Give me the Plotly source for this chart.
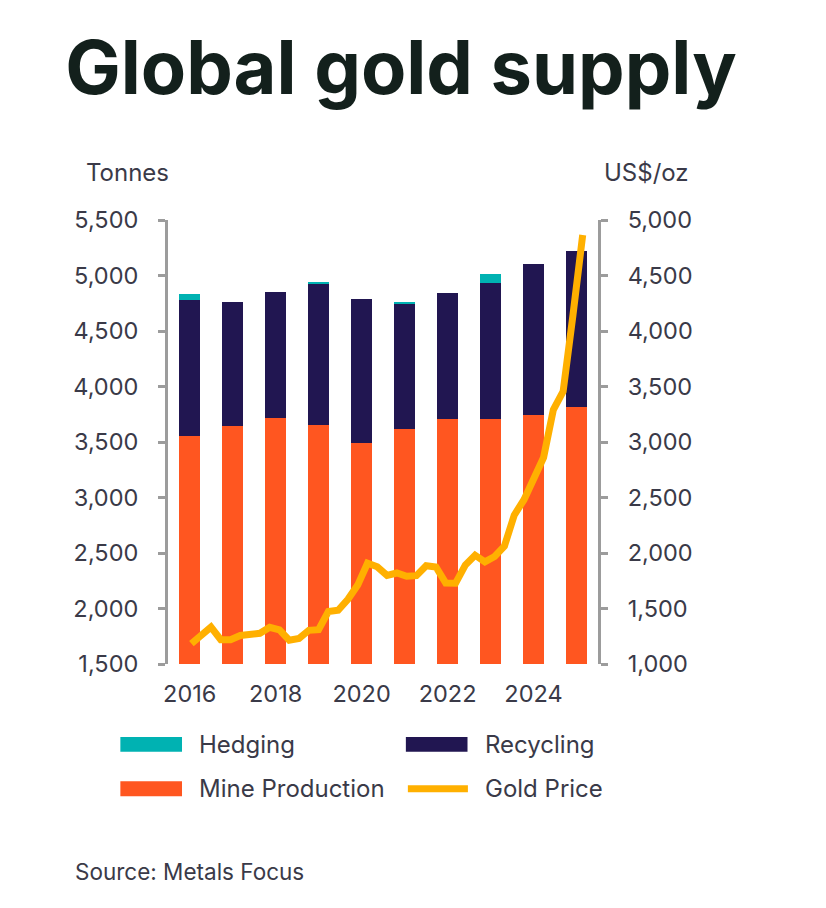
import plotly.graph_objects as go

# ---------------- data ----------------
years = [2016, 2017, 2018, 2019, 2020, 2021, 2022, 2023, 2024, 2025]
mine_production = [3553, 3643, 3715, 3652, 3493, 3619, 3706, 3706, 3739, 3817]
recycling = [1229, 1115, 1133, 1274, 1292, 1130, 1139, 1229, 1364, 1400]
hedging = [48, 0, 0, 12, 0, 12, 0, 75, 0, 0]

quarters = [f"Q{q} {y}" for y in range(2016, 2026) for q in range(1, 5)] + ["Q1 2026"]
gold_price = [1183, 1260, 1333, 1219,
              1219, 1257, 1275, 1277,
              1331, 1307, 1215, 1230,
              1303, 1309, 1473, 1484,
              1583, 1711, 1908, 1876,
              1798, 1820, 1791, 1796,
              1885, 1874, 1729, 1727,
              1891, 1980, 1920, 1969,
              2062, 2341, 2480, 2663,
              2860, 3290, 3455, 4140,
              4865]

left_ticks = [1500, 2000, 2500, 3000, 3500, 4000, 4500, 5000, 5500]
right_ticks = [1000, 1500, 2000, 2500, 3000, 3500, 4000, 4500, 5000]
x_ticks = [2016, 2018, 2020, 2022, 2024]

# ---------------- style ----------------
W, H = 826, 908
L, R = 168.3, 598.0
T, B = 219.6, 664.3
C_MINE = "#FF5620"
C_REC = "#211651"
C_HEDGE = "#00B2B2"
C_GOLD = "#FFB000"
C_AXIS = "#9C9C9C"
C_TEXT = "#3A3A48"
FONT = "Inter"

def px(x):
    return (x - L) / (R - L)

def py(y):
    return (B - y) / (B - T)

fig = go.Figure()
fig.add_trace(go.Bar(x=years, y=mine_production, name="Mine Production",
                     marker=dict(color=C_MINE, line=dict(width=0)), width=0.5,
                     showlegend=False))
fig.add_trace(go.Bar(x=years, y=recycling, name="Recycling",
                     marker=dict(color=C_REC, line=dict(width=0)), width=0.5,
                     showlegend=False))
fig.add_trace(go.Bar(x=years, y=hedging, name="Hedging",
                     marker=dict(color=C_HEDGE, line=dict(width=0)), width=0.5,
                     showlegend=False))
fig.add_trace(go.Scatter(x=quarters, y=gold_price, name="Gold Price", mode="lines",
                         line=dict(color=C_GOLD, width=7), xaxis="x2", yaxis="y2",
                         showlegend=False))

n = len(quarters)
sp = (582.7 - 191.7) / (n - 1)
x2_lo = -(191.7 - L) / sp
x2_hi = (n - 1) + (R - 582.7) / sp

tickfont = dict(family=FONT, size=23.5, color=C_TEXT)
fig.update_layout(
    width=W, height=H,
    margin=dict(l=L, r=W - R, t=T, b=H - B, pad=0),
    paper_bgcolor="white", plot_bgcolor="white",
    barmode="stack", bargap=0.5,
    showlegend=False,
    title=dict(text="<b>Global gold supply</b>", x=401 / W, xanchor="center",
               y=1 - 68 / H, yanchor="middle", xref="container", yref="container",
               font=dict(family=FONT, size=74, color="#13201C", weight=800)),
    xaxis=dict(range=[2015.495, 2025.5], tickvals=x_ticks, ticktext=[str(v) for v in x_ticks],
               showline=False, ticks="", showgrid=False, zeroline=False,
               tickfont=tickfont, ticklabelstandoff=13),
    xaxis2=dict(type="category", overlaying="x", range=[x2_lo, x2_hi], visible=False,
                showgrid=False),
    yaxis=dict(range=[1500, 5500], tickvals=left_ticks, tickformat=",d",
               showline=True, linecolor=C_AXIS, linewidth=3, ticks="outside",
               ticklen=7, tickwidth=3, tickcolor=C_AXIS, showgrid=False, zeroline=False,
               tickfont=tickfont, ticklabelstandoff=15),
    yaxis2=dict(range=[1000, 5000], tickvals=right_ticks, tickformat=",d", overlaying="y",
                side="right", anchor="x",
                showline=True, linecolor=C_AXIS, linewidth=3, ticks="outside",
                ticklen=7, tickwidth=3, tickcolor=C_AXIS, showgrid=False, zeroline=False,
                tickfont=tickfont, ticklabelstandoff=15),
)

ann = []
ann.append(dict(text="Tonnes", x=px(128), y=py(172), xref="paper", yref="paper",
                showarrow=False, xanchor="center", yanchor="middle",
                font=dict(family=FONT, size=24, color=C_TEXT)))
ann.append(dict(text="US$/oz", x=px(646), y=py(172), xref="paper", yref="paper",
                showarrow=False, xanchor="center", yanchor="middle",
                font=dict(family=FONT, size=24, color=C_TEXT)))
ann.append(dict(text="Source: Metals Focus", x=px(73), y=py(872), xref="paper", yref="paper",
                showarrow=False, xanchor="left", yanchor="middle",
                font=dict(family=FONT, size=22.5, color=C_TEXT)))

shapes = []
# legend: (label, kind, color, symbol_x0, row_y)
legend_items = [
    ("Hedging", "rect", C_HEDGE, 120.7, 744.8),
    ("Recycling", "rect", C_REC, 406.0, 744.8),
    ("Mine Production", "rect", C_MINE, 120.7, 789.2),
    ("Gold Price", "line", C_GOLD, 406.0, 789.2),
]
for label, kind, color, x0, yc in legend_items:
    if kind == "rect":
        shapes.append(dict(type="rect", xref="paper", yref="paper",
                           x0=px(x0), x1=px(x0 + 61.6), y0=py(yc + 7.5), y1=py(yc - 7.5),
                           fillcolor=color, line=dict(width=0)))
    else:
        shapes.append(dict(type="line", xref="paper", yref="paper",
                           x0=px(x0 + 2), x1=px(x0 + 62), y0=py(yc), y1=py(yc),
                           line=dict(color=color, width=7)))
    ann.append(dict(text=label, x=px(x0 + 77), y=py(yc), xref="paper", yref="paper",
                    showarrow=False, xanchor="left", yanchor="middle",
                    font=dict(family=FONT, size=24, color=C_TEXT)))

fig.update_layout(annotations=ann, shapes=shapes)
fig.write_html("out.html")
